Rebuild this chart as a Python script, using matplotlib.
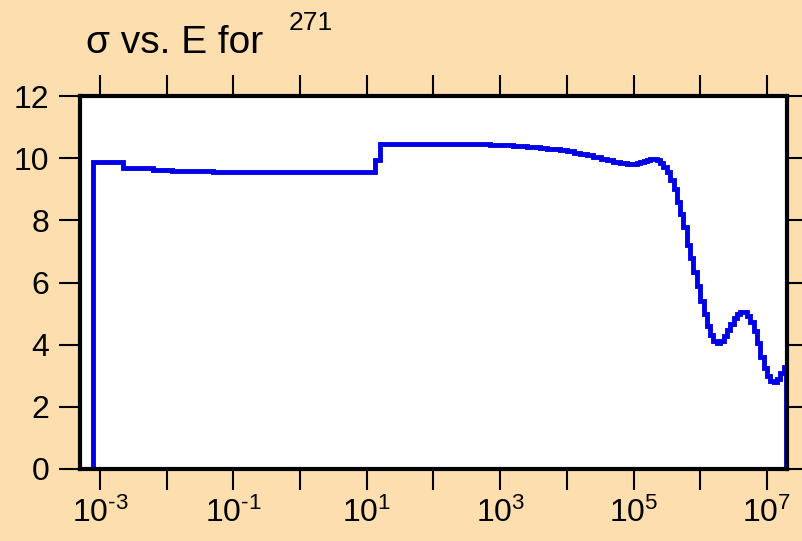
import math
import matplotlib
matplotlib.use("Agg")
import matplotlib.pyplot as plt
from matplotlib.ticker import FixedLocator, FuncFormatter, NullLocator

plt.rcParams['font.family'] = ['Liberation Sans', 'DejaVu Sans']
plt.rcParams['mathtext.fontset'] = 'custom'
plt.rcParams['mathtext.rm'] = 'Liberation Sans'

# energy (eV) and cross section values
energy = [7.9e-4, 7.9e-4, 2.2e-3, 6.3e-3, 1.2e-2, 5.0e-2, 0.3, 2.0, 13.3, 15.8,
          30.0, 60.0, 100.0, 200.0, 400.0, 700.0,
          1.0e3, 1.26e3, 1.58e3, 2.0e3, 2.5e3, 3.2e3, 4.0e3, 5.0e3, 6.3e3, 7.9e3,
          1.0e4, 1.26e4, 1.58e4, 2.0e4, 2.5e4, 3.2e4, 4.0e4, 5.0e4, 6.3e4, 7.9e4,
          1.0e5, 1.12e5, 1.26e5, 1.41e5, 1.58e5, 1.78e5, 2.0e5, 2.24e5, 2.5e5, 2.8e5,
          3.2e5, 3.5e5, 4.0e5, 4.5e5, 5.0e5, 5.6e5, 6.3e5, 7.1e5, 7.9e5, 8.9e5,
          1.0e6, 1.12e6, 1.26e6, 1.41e6, 1.58e6, 1.78e6, 2.0e6, 2.24e6, 2.5e6, 2.8e6,
          3.2e6, 3.5e6, 4.0e6, 4.5e6, 5.0e6, 5.6e6, 6.3e6, 7.1e6, 7.9e6, 8.9e6,
          1.0e7, 1.12e7, 1.26e7, 1.41e7, 1.58e7, 1.78e7, 1.93e7]
sigma = [0.0, 9.87, 9.68, 9.62, 9.58, 9.57, 9.56, 9.55, 9.95, 10.47,
         10.47, 10.46, 10.45, 10.45, 10.44, 10.43,
         10.42, 10.41, 10.40, 10.39, 10.37, 10.35, 10.33, 10.31, 10.28, 10.25,
         10.22, 10.18, 10.14, 10.09, 10.04, 9.98, 9.93, 9.88, 9.84, 9.81,
         9.82, 9.84, 9.87, 9.90, 9.93, 9.96, 9.96, 9.94, 9.85, 9.72,
         9.55, 9.30, 9.00, 8.60, 8.20, 7.80, 7.20, 6.80, 6.35, 5.90,
         5.40, 5.00, 4.60, 4.30, 4.12, 4.06, 4.12, 4.28, 4.47, 4.65,
         4.85, 4.98, 5.05, 5.05, 4.92, 4.73, 4.45, 4.05, 3.60, 3.25,
         3.00, 2.82, 2.80, 2.90, 3.09, 3.28, 0.0]

x_ticks = [1e-3, 1e-2, 1e-1, 1e0, 1e1, 1e2, 1e3, 1e4, 1e5, 1e6, 1e7]
y_ticks = [0, 2, 4, 6, 8, 10, 12]

bg = '#FDDEAE'
fig = plt.figure(figsize=(8.03, 5.41), dpi=100, facecolor=bg)
ax = fig.add_axes([80 / 803, 1 - 469 / 541, 707 / 803, 373 / 541])
ax.set_facecolor('white')

ax.plot(energy, sigma, drawstyle='steps-post', color='#0000E6', lw=3.5,
        solid_joinstyle='miter')

ax.set_xscale('log')
ax.set_xlim(5.0e-4, 2.0e7)
ax.set_ylim(0, 12)

ax.xaxis.set_major_locator(FixedLocator(x_ticks))
ax.xaxis.set_minor_locator(NullLocator())


def fmt(v, pos):
    e = int(round(math.log10(v)))
    if e % 2 == 0:
        return ''
    if e < 0:
        return r'$\mathregular{10^{\text{-}%d}}$' % (-e)
    return r'$\mathregular{10^{%d}}$' % e


ax.xaxis.set_major_formatter(FuncFormatter(fmt))
ax.yaxis.set_major_locator(FixedLocator(y_ticks))

for s in ax.spines.values():
    s.set_linewidth(3)
    s.set_color('black')

ax.tick_params(axis='both', which='major', direction='out', length=15,
               width=1.5, color='black', labelsize=23, top=True, right=True,
               labeltop=False, labelright=False)
ax.tick_params(axis='x', pad=6)
ax.tick_params(axis='y', pad=7)

fig.text(86 / 803, 1 - 53 / 541, 'σ vs. E for', fontsize=28, ha='left',
         va='baseline')
fig.text(289 / 803, 1 - 30 / 541, '271', fontsize=19, ha='left',
         va='baseline')

fig.savefig('out.png', dpi=100, facecolor=bg)
